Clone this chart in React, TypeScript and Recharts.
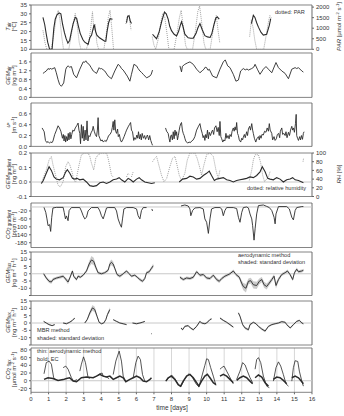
import React from "react";
import {
  ComposedChart,
  Line,
  Area,
  XAxis,
  YAxis,
  CartesianGrid,
  ReferenceLine,
  ReferenceArea,
} from "recharts";

type P = [number, number] | null;
type S = [number, number, number] | null;

const dayTicks = [0, 1, 2, 3, 4, 5, 6, 7, 8, 9, 10, 11, 12, 13, 14, 15, 16];

// air temperature [°C]
const tair: P[] = [
  [0.68, 28], [0.78, 24], [0.87, 18.5], [0.95, 14], [1.06, 10], [1.2, 10], [1.3, 22], [1.38, 27], [1.48, 29.5],
  [1.6, 30.5], [1.7, 30], [1.8, 24], [1.9, 19.5], [2.0, 16], [2.1, 13.5], [2.2, 15], [2.3, 20], [2.4, 24.5],
  [2.52, 28], [2.6, 27.5], [2.7, 23], [2.8, 19], [2.95, 15.5], [3.06, 14], [3.25, 12.8], [3.35, 16.5], [3.45, 18],
  [3.52, 21], [3.6, 24], [3.68, 20], [3.75, 18], [3.9, 16.5], [4.05, 15.5], [4.2, 14.5], [4.26, 14.5], [4.33, 20],
  [4.42, 25], [4.5, 27.3], [4.64, 27], null,
  [5.44, 25], [5.5, 28.5], [5.58, 29], [5.65, 26], [5.72, 24.5], null,
  [6.92, 18.5], [7.05, 17], [7.15, 16], [7.3, 20], [7.45, 26], [7.6, 31], [7.7, 30], [7.81, 27], [7.9, 23], [8.0, 20.5],
  [8.15, 18.5], [8.29, 17.5], [8.4, 20], [8.5, 23.5], [8.57, 25.5], [8.65, 23], [8.76, 18.5], [8.95, 16.5], [9.1, 16.2],
  [9.24, 16.3], [9.4, 19], [9.5, 22], [9.62, 24.5], [9.75, 21], [9.9, 17.7], [10.05, 17], [10.2, 16.7], [10.3, 19],
  [10.42, 24], [10.52, 27.5], [10.6, 28.3], [10.72, 27], null,
  [12.55, 24.5], [12.66, 29.2], [12.75, 28], [12.85, 25], [12.95, 22.5], [13.1, 19.5], [13.23, 18], [13.42, 18.5],
  [13.57, 23.5], [13.65, 27.3],
];

// PAR [µmol m-2 s-1]
const par: P[] = [
  [0.68, 900], [0.8, 300], [0.9, 0], [1.15, 0], [1.3, 700], [1.45, 1600], [1.55, 1850], [1.65, 1400], [1.75, 600],
  [1.85, 0], [2.15, 0], [2.3, 700], [2.42, 1300], [2.52, 1700], [2.62, 1200], [2.75, 300], [2.85, 0], [3.15, 0],
  [3.3, 400], [3.4, 1000], [3.5, 1780], [3.58, 900], [3.65, 1200], [3.75, 300], [3.85, 0], [4.15, 0], [4.3, 800],
  [4.4, 1500], [4.5, 1850], [4.6, 1000], [4.7, 0], null,
  [5.4, 1200], [5.5, 1600], [5.6, 1500], [5.7, 900], null,
  [6.9, 600], [7.0, 200], [7.1, 0], [7.25, 500], [7.4, 1300], [7.5, 1700], [7.62, 1500], [7.75, 700], [7.85, 0],
  [8.15, 0], [8.3, 700], [8.45, 1500], [8.55, 1850], [8.65, 1200], [8.8, 200], [8.9, 0], [9.2, 0], [9.35, 800],
  [9.5, 1800], [9.6, 2050], [9.7, 1400], [9.85, 300], [9.95, 0], [10.2, 0], [10.35, 800], [10.48, 1400], [10.55, 1600],
  [10.65, 900], [10.75, 300], null,
  [12.45, 600], [12.55, 1400], [12.65, 1000], [12.75, 400], [12.85, 0], [13.25, 0], [13.4, 700], [13.52, 1300],
  [13.6, 1600], [13.68, 1500],
];

// GEM air concentration [ng m-3]
const gemAir: P[] = [
  [0.68, 1.08], [0.78, 1.14], [0.87, 1.19], [0.97, 1.3], [1.05, 1.26], [1.1, 1.32], [1.16, 1.27], [1.25, 1.3],
  [1.35, 1.34], [1.44, 1.11], [1.54, 0.8], [1.63, 0.58], [1.73, 0.5], [1.86, 0.65], [1.98, 1.27], [2.05, 1.38],
  [2.11, 1.42], [2.2, 1.36], [2.3, 1.39], [2.43, 1.04], [2.59, 0.88], [2.78, 1.27], [2.97, 1.6], [3.05, 1.58],
  [3.12, 1.65], [3.2, 1.55], [3.31, 1.49], [3.42, 1.35], [3.54, 1.19], [3.63, 1.14], [3.73, 1.08], [3.88, 1.34],
  [3.95, 1.28], [4.01, 1.3], [4.1, 1.25], [4.2, 1.19], [4.39, 0.96], [4.58, 0.84], [4.77, 1.19], [4.96, 1.49],
  [5.06, 1.42], [5.15, 1.3], [5.25, 1.23], [5.48, 0.96], [5.63, 0.73], [5.72, 1.04], [5.86, 1.49], [6.01, 1.42],
  [6.1, 1.3], [6.2, 1.19], [6.3, 1.12], [6.39, 1.04], [6.58, 0.88], [6.77, 0.96], [6.85, 1.05], [6.92, 1.23], null,
  [8.48, 1.42], [8.57, 1.15], [8.62, 1.4], [8.76, 1.49], [8.9, 1.55], [9.05, 1.6], [9.24, 1.49], [9.43, 1.27],
  [9.62, 1.11], [9.75, 1.2], [9.85, 1.27], [9.92, 1.36], [10.0, 1.34], [10.08, 1.22], [10.15, 1.27], [10.34, 0.96],
  [10.57, 0.88], [10.76, 1.27], [10.95, 1.6], [11.06, 1.69], [11.2, 1.42], [11.33, 1.34], [11.52, 1.04],
  [11.67, 0.73], [11.81, 0.78], [11.94, 1.19], [12.09, 1.3], [12.2, 1.24], [12.3, 1.28], [12.38, 1.23],
  [12.57, 1.3], [12.68, 1.36], [12.76, 1.49], [12.89, 1.27], [13.04, 1.04], [13.23, 1.27], [13.38, 1.39],
  [13.52, 1.27], [13.71, 1.11], [13.95, 1.57], [14.09, 1.34], [14.28, 1.19], [14.47, 1.08], [14.66, 0.84],
  [14.85, 1.27], [15.04, 1.34], [15.13, 1.3], [15.23, 1.34], [15.42, 1.19], [15.51, 1.14],
];

// friction velocity [m s-1]
const ustar: P[] = [
  [0.63, 0.34], [0.7, 0.3], [0.75, 0.27], [0.82, 0.11], [0.9, 0.07], [0.97, 0.09], [1.05, 0.06], [1.12, 0.08],
  [1.2, 0.07], [1.25, 0.1], [1.35, 0.22], [1.45, 0.3], [1.54, 0.38], [1.62, 0.34], [1.7, 0.28], [1.79, 0.15],
  [1.84, 0.22], [1.88, 0.1], [1.93, 0.2], [1.97, 0.08], [2.02, 0.18], [2.07, 0.1], [2.12, 0.24], [2.16, 0.12],
  [2.22, 0.26], [2.27, 0.14], [2.32, 0.22], [2.38, 0.3], [2.45, 0.28], [2.52, 0.34], [2.6, 0.38], [2.68, 0.43],
  [2.73, 0.3], [2.78, 0.24], [2.82, 0.05], [2.87, 0.4], [2.92, 0.15], [2.97, 0.37], [3.02, 0.1], [3.08, 0.3],
  [3.13, 0.12], [3.19, 0.47], [3.24, 0.1], [3.29, 0.2], [3.35, 0.18], [3.42, 0.25], [3.5, 0.3], [3.54, 0.37],
  [3.6, 0.28], [3.66, 0.22], [3.73, 0.18], [3.78, 0.3], [3.82, 0.53], [3.86, 0.2], [3.92, 0.15], [3.98, 0.1],
  [4.05, 0.12], [4.12, 0.08], [4.2, 0.11], [4.28, 0.09], [4.35, 0.14], [4.42, 0.2], [4.5, 0.22], [4.58, 0.27],
  [4.63, 0.35], [4.68, 0.46], [4.72, 0.3], [4.77, 0.49], [4.82, 0.28], [4.87, 0.24], [4.93, 0.32], [4.97, 0.18],
  [5.03, 0.22], [5.09, 0.12], [5.15, 0.08], [5.22, 0.12], [5.3, 0.18], [5.38, 0.25], [5.44, 0.3], [5.53, 0.36],
  [5.6, 0.4], [5.67, 0.44], [5.72, 0.3], [5.78, 0.27], [5.85, 0.11], [5.9, 0.16], [5.96, 0.13], [6.03, 0.21],
  [6.08, 0.15], [6.12, 0.27], [6.18, 0.14], [6.23, 0.22], [6.28, 0.12], [6.33, 0.24], [6.4, 0.15], [6.47, 0.2],
  [6.52, 0.13], [6.58, 0.18], [6.63, 0.21], [6.7, 0.12], [6.76, 0.2], [6.82, 0.11], [6.88, 0.05], [6.92, 0.02], null,
  [7.66, 0.34], [7.72, 0.28], [7.81, 0.24], [7.86, 0.15], [7.91, 0.08], [7.96, 0.2], [8.0, 0.21], [8.05, 0.12],
  [8.1, 0.27], [8.15, 0.14], [8.2, 0.3], [8.25, 0.2], [8.29, 0.27], [8.34, 0.12], [8.39, 0.2], [8.44, 0.3],
  [8.48, 0.37], [8.53, 0.42], [8.57, 0.44], [8.62, 0.3], [8.67, 0.24], [8.72, 0.2], [8.76, 0.15], [8.81, 0.1],
  [8.86, 0.08], [8.92, 0.06], [9.0, 0.08], [9.08, 0.07], [9.15, 0.1], [9.24, 0.12], [9.33, 0.18], [9.43, 0.3],
  [9.52, 0.36], [9.62, 0.42], [9.68, 0.32], [9.75, 0.24], [9.8, 0.16], [9.85, 0.2], [9.9, 0.11], [9.95, 0.22],
  [10.0, 0.16], [10.05, 0.3], [10.1, 0.14], [10.15, 0.26], [10.22, 0.2], [10.3, 0.28], [10.34, 0.3], [10.4, 0.22],
  [10.45, 0.34], [10.53, 0.38], [10.6, 0.27], [10.66, 0.35], [10.72, 0.2], [10.76, 0.46], [10.81, 0.18],
  [10.86, 0.14], [10.92, 0.08], [10.98, 0.12], [11.04, 0.1], [11.1, 0.24], [11.15, 0.15], [11.22, 0.2],
  [11.28, 0.14], [11.33, 0.22], [11.4, 0.18], [11.45, 0.28], [11.52, 0.34], [11.57, 0.28], [11.62, 0.36],
  [11.67, 0.3], [11.71, 0.44], [11.76, 0.24], [11.81, 0.2], [11.86, 0.12], [11.94, 0.08], [12.0, 0.15],
  [12.05, 0.12], [12.09, 0.17], [12.15, 0.22], [12.2, 0.16], [12.28, 0.27], [12.33, 0.2], [12.38, 0.32],
  [12.45, 0.37], [12.5, 0.3], [12.57, 0.42], [12.62, 0.3], [12.66, 0.24], [12.72, 0.15], [12.8, 0.08],
  [12.86, 0.14], [12.95, 0.18], [13.0, 0.12], [13.04, 0.2], [13.1, 0.15], [13.15, 0.22], [13.23, 0.21],
  [13.3, 0.28], [13.38, 0.26], [13.45, 0.34], [13.52, 0.28], [13.57, 0.42], [13.62, 0.3], [13.71, 0.24],
  [13.76, 0.12], [13.84, 0.18], [13.9, 0.11], [13.97, 0.14], [14.03, 0.22], [14.1, 0.24], [14.16, 0.16],
  [14.2, 0.28], [14.28, 0.34], [14.33, 0.22], [14.4, 0.24], [14.47, 0.2], [14.52, 0.27], [14.58, 0.16],
  [14.66, 0.26], [14.72, 0.2], [14.78, 0.3], [14.85, 0.37], [14.9, 0.3], [14.95, 0.34], [15.0, 0.26],
  [15.06, 0.42], [15.1, 0.59], [15.13, 0.2], [15.18, 0.15], [15.23, 0.11], [15.3, 0.18], [15.35, 0.12],
  [15.4, 0.2], [15.46, 0.13], [15.51, 0.24], [15.55, 0.27],
];

// GEM gradient [ng m-4]
const gemGrad: P[] = [
  [0.59, -0.01], [0.7, 0.01], [0.87, 0.06], [1.03, 0.105], [1.16, 0.08], [1.31, 0.035], [1.44, 0.02], [1.63, 0.015],
  [1.83, 0.03], [1.98, 0.07], [2.07, 0.085], [2.21, 0.06], [2.36, 0.025], [2.49, 0.02], [2.62, 0.025], [2.78, 0.015],
  [2.97, 0.02], [3.16, 0.0], [3.35, -0.025], [3.54, -0.03], [3.73, -0.025], [3.92, -0.005], [4.11, 0.0],
  [4.3, -0.01], [4.49, 0.0], [4.68, 0.015], [4.87, 0.02], [5.02, 0.03], [5.15, 0.015], [5.34, 0.0], [5.53, 0.025],
  [5.67, 0.015], [5.82, 0.0], [6.01, 0.02], [6.16, 0.03], [6.29, 0.015], [6.48, 0.0], [6.67, -0.005],
  [6.86, -0.01], [7.05, -0.005], null,
  [8.44, 0.0], [8.63, 0.02], [8.86, 0.025], [9.05, 0.04], [9.24, 0.035], [9.43, 0.02], [9.62, 0.025], [9.81, 0.045],
  [10.0, 0.06], [10.15, 0.075], [10.28, 0.045], [10.44, 0.01], [10.57, 0.02], [10.76, 0.025], [10.95, 0.03],
  [11.14, 0.015], [11.33, 0.01], [11.52, 0.0], [11.71, 0.01], [11.9, 0.015], [12.09, 0.02], [12.28, 0.025],
  [12.47, 0.035], [12.66, 0.03], [12.85, 0.045], [13.04, 0.07], [13.17, 0.105], [13.33, 0.07], [13.48, 0.025],
  [13.61, 0.02], [13.8, 0.015], [13.99, 0.03], [14.18, 0.02], [14.37, 0.0], [14.56, 0.015], [14.75, 0.02],
  [14.9, 0.03], [15.04, 0.015], [15.23, 0.01], [15.42, 0.0], [15.51, -0.005],
];

// relative humidity [%]
const rh: P[] = [
  [0.59, 30], [0.68, 41], [0.87, 61], [1.03, 84], [1.16, 92], [1.25, 73], [1.4, 49], [1.54, 26], [1.67, 22],
  [1.83, 34], [1.98, 69], [2.11, 80], [2.21, 73], [2.36, 53], [2.43, 37], [2.55, 34], [2.62, 49], [2.74, 73],
  [2.87, 96], [3.06, 100], [3.25, 100], [3.35, 92], [3.44, 77], [3.57, 61], [3.69, 88], [3.82, 96], [4.01, 100],
  [4.3, 100], [4.39, 88], [4.49, 69], [4.58, 49], [4.68, 45], null,
  [5.44, 45], [5.53, 53], [5.6, 50], null,
  [5.72, 45], [5.82, 57], null,
  [6.92, 80], [7.05, 88], [7.15, 92], [7.3, 69], [7.43, 49], [7.57, 34], [7.72, 41], [7.91, 69], [8.06, 88],
  [8.2, 92], [8.29, 77], [8.44, 49], [8.57, 37], [8.76, 53], [8.9, 84], [9.05, 100], [9.33, 100], [9.46, 88],
  [9.62, 65], [9.71, 49], [9.85, 73], [10.0, 96], [10.19, 100], [10.38, 92], [10.53, 61], [10.66, 41],
  [10.76, 61], null,
  [12.43, 37], [12.57, 61], [12.66, 84], [12.76, 96], [12.95, 96], [13.08, 77], [13.19, 49], [13.3, 34],
  [13.52, 45], [13.61, 57], null,
  [15.49, 80], [15.52, 88],
];

// CO2 gradient [ppm m-1]
const co2Grad: P[] = [
  [0.74, -2], [0.84, -27], [0.91, -60], [0.97, -94], [1.06, -89], [1.12, -123], [1.18, -52], [1.25, -5],
  [1.44, -2], [1.83, -2], [1.89, -27], [1.96, -60], [2.02, -45], [2.11, -69], [2.17, -18], [2.3, -3], [2.78, -3],
  [2.87, -20], [2.97, -44], [3.06, -60], [3.16, -52], [3.25, -20], [3.44, -3], [3.82, -3], [3.92, -20],
  [4.01, -44], [4.11, -60], [4.2, -35], [4.3, -5], [4.39, -3], [4.77, -3], [4.87, -20], [4.96, -60], [5.06, -85],
  [5.15, -102], [5.21, -60], [5.29, -10], [5.44, -3], [5.82, -3], [6.01, -10], [6.1, -44], [6.2, -60],
  [6.29, -18], [6.39, -3], [6.58, -3], null,
  [6.88, -10], [6.92, -20], null,
  [8.54, 5], [8.76, 10], [8.95, 5], [9.05, -10], [9.1, -44], [9.2, -18], [9.33, -5], [9.62, -3], [9.81, -10],
  [9.9, -60], [10.0, -77], [10.1, -133], [10.19, -60], [10.28, -10], [10.47, -3], [10.76, -3], [10.86, -10],
  [10.95, -44], [11.04, -18], [11.14, -3], [11.52, -3], [11.71, -8], [11.81, -52], [11.9, -77], [12.0, -27],
  [12.09, -3], [12.28, 0], [12.38, -5], [12.47, -35], [12.57, -60], [12.62, -94], [12.7, -167], [12.76, -110],
  [12.85, -35], [12.95, 7], [13.23, 10], [13.42, 3], [13.57, -3], [13.71, -18], [13.84, -52], [13.9, -85],
  [13.95, -35], [14.09, 2], [14.56, 2], [14.71, -10], [14.85, -52], [14.94, -65], [15.04, -18], [15.13, -3],
  [15.42, 2], [15.51, 2],
];

// GEM flux, aerodynamic method [ng m-2 h-1]: time, value, standard deviation
const gemAero: S[] = [
  [0.72, 0, 1], [0.87, -2.9, 1], [1.03, -5.2, 1.2], [1.16, -5.7, 1.2], [1.25, -4, 1], [1.44, -3, 1],
  [1.63, -2.4, 1], [1.83, -1.7, 1], [1.92, -2.9, 1], [2.11, -5.7, 1.5], [2.21, -2.9, 1], [2.36, 1.9, 1],
  [2.43, -1.7, 1], [2.59, -4, 1], [2.68, -1.7, 1], [2.81, -2.4, 0.8], [2.97, -1, 0.8], [3.16, 1.9, 1],
  [3.31, 6.7, 2], [3.44, 9.5, 2.8], [3.57, 8.6, 2.5], [3.69, 4.5, 1.5], [3.82, 0.7, 1], [4.01, 0, 0.8],
  [4.2, 0.7, 0.8], [4.39, 2.4, 1], [4.49, 6.7, 1.8], [4.58, 7.9, 2], [4.68, 6.7, 1.8], [4.77, 3.8, 1.2],
  [4.9, -0.5, 1], [5.06, -1.7, 1], [5.25, 0, 0.8], [5.44, 1.9, 0.8], [5.59, 0, 0.8], [5.72, -1.7, 0.8],
  [5.91, -1, 0.8], [6.05, -2.4, 0.8], [6.2, -4, 1], [6.35, -5.2, 1], [6.48, -3.3, 1], [6.58, 0.7, 1],
  [6.73, 1.4, 1], [6.86, 3.8, 1.2], [6.96, 5.5, 1.5], null,
  [8.48, -2.4, 1], [8.67, -4, 1], [8.86, -2.9, 1], [9.05, -3.3, 1], [9.24, -2.4, 1], [9.43, 1.4, 1],
  [9.62, -1, 1], [9.81, -0.5, 1], [10.0, -2.9, 1], [10.19, -3.3, 1], [10.38, -1, 1], [10.57, -4, 1.2],
  [10.72, -5.2, 1.2], [10.86, -3.3, 1], [11.04, -1.7, 1], [11.33, 0, 1], [11.52, 1.9, 1], [11.67, -0.5, 1],
  [11.86, -2.4, 1.2], [11.99, -6.4, 2], [12.09, -8.8, 2.5], [12.24, -10, 3], [12.38, -5.2, 2], [12.51, -4.8, 2],
  [12.66, -7.6, 2.5], [12.85, -8.1, 2.5], [13.0, -5.2, 2], [13.14, -4, 1.8], [13.27, -7.6, 2], [13.42, -8.8, 2],
  [13.57, -6.4, 1.5], [13.71, -4, 1.5], [13.84, -1.7, 1.5], [13.95, -8.1, 2], [14.09, -4, 1.5], [14.28, -0.5, 1],
  [14.47, 0.7, 1], [14.6, 1.9, 1], [14.75, -0.5, 1], [14.9, -4, 1.2], [15.0, 0.7, 1], [15.13, 3.1, 1.2],
  [15.23, 1.4, 1], [15.42, 1.9, 1], [15.51, 2.4, 1],
];

// GEM flux, MBR method [ng m-2 h-1]: time, value, standard deviation
const gemMbr: S[] = [
  [0.72, 1.1, 0.5], [0.87, 0, 0.5], [1.03, -1.1, 0.5], [1.2, -1.8, 0.5], [1.35, -1.1, 0.5], null,
  [1.83, 0, 0.5], [2.02, -0.5, 0.5], [2.2, 0.5, 0.5], [2.36, 1.8, 0.5], [2.49, 3.4, 0.6], null,
  [3.06, 0, 0.5], [3.2, 2.3, 0.8], [3.35, 6.9, 1.5], [3.5, 10.3, 2], [3.63, 9.2, 1.8], [3.76, 4.6, 1],
  [3.88, 0.5, 0.6], [4.01, -0.5, 0.5], [4.14, 0, 0.5], [4.26, 2.3, 0.6], [4.35, 5.7, 1], [4.49, 9.2, 1.5], null,
  [4.68, 2.3, 0.5], [4.87, 1.1, 0.5], [5.06, 0, 0.5], [5.25, -0.5, 0.5], [5.44, -1.1, 0.5], null,
  [5.78, 0, 0.5], [6.01, -0.5, 0.5], [6.2, 0, 0.5], [6.35, 0.5, 0.5], [6.48, 1.1, 0.5], null,
  [6.85, -7.3, 0.3], [6.88, -7.3, 0.3], null,
  [8.54, -3.4, 0.6], [8.63, -4.6, 0.6], [8.76, -2.3, 0.6], [8.95, -1.8, 0.6], [9.08, -3.4, 0.6], [9.24, -4.6, 0.6],
  [9.43, -2.3, 0.6], [9.62, 1.1, 0.6], [9.71, 0, 0.6], [9.9, -0.5, 0.6], [10.0, 0, 0.6], [10.19, 2.3, 0.6],
  [10.28, 2.8, 0.6], null,
  [10.76, 3.4, 0.6], [10.95, 1.8, 0.6], [11.14, 0.5, 0.6], [11.33, -1.1, 0.6], [11.52, -2.8, 0.6], null,
  [11.81, 6.9, 0.8], [11.9, 4.6, 0.8], [12.05, -1.1, 0.8], [12.19, -3.4, 0.8], [12.38, -4.6, 0.8],
  [12.47, -1.1, 0.8], [12.66, 0.5, 0.6], [12.81, -0.5, 0.6], [12.95, -2.3, 0.6], [13.14, -4.1, 0.8],
  [13.33, -5.5, 0.8], [13.52, -2.3, 0.6], [13.71, -1.1, 0.6], [13.9, -0.5, 0.6], [14.09, 0, 0.6],
  [14.28, 0.9, 0.6], [14.47, 0.5, 0.6], [14.56, -1.1, 0.6], [14.76, -3.4, 0.6], [14.94, -1.1, 0.6],
  [15.13, 1.1, 0.6], [15.28, 1.8, 0.6], [15.42, 0, 0.6], [15.51, -0.5, 0.6],
];

// CO2 flux, aerodynamic method (thin) [µmol m-2 s-1]
const co2Aero: P[] = [
  [0.74, 18], [0.87, 47], [1.03, 51], [1.16, 43], [1.29, 8], [1.4, 3.5], null,
  [1.83, 34], [1.98, 38], [2.11, 30], [2.3, 8], [2.43, -1], [2.62, 3], null,
  [2.78, 25], [2.87, 43], [2.99, 62], [3.1, 47], [3.25, 8], [3.35, 6], null,
  [3.73, 12], [3.92, 18], [4.05, 20], [4.11, 12], [4.3, 10], [4.45, 5], null,
  [4.68, 16], [4.83, 51], [5.02, 77], [5.15, 51], [5.25, 12], [5.4, -2.6], null,
  [5.82, 8], [5.97, 47], [6.1, 64], [6.23, 55], [6.35, 16], [6.48, -1], null,
  [7.68, -1], [7.85, 8], [8.0, 15], [8.2, 5], [8.4, -10], [8.52, -16], [8.7, 0], [8.9, 14], [9.0, 18], [9.2, 8],
  [9.4, -8], [9.56, -16], [9.75, 15], [9.9, 40], [10.0, 57], [10.1, 55], [10.23, 34], [10.38, 12], [10.53, -12], null,
  [10.76, 30], [10.86, 34], [10.99, 38], [11.14, 25], [11.29, 12], [11.43, -1], [11.52, -8], null,
  [11.71, 3.5], [11.9, 25], [12.05, 47], [12.19, 41], [12.32, 25], [12.47, 8], [12.62, -5], null,
  [12.76, 30], [12.85, 55], [12.95, 60], [13.08, 47], [13.23, 12], [13.42, -14], [13.57, -18], null,
  [13.8, -1], [13.95, 34], [14.09, 49], [14.22, 38], [14.37, 16], [14.52, -8], [14.66, -14], null,
  [14.85, -1], [14.94, 34], [15.04, 52], [15.19, 50], [15.28, 25], [15.42, -1], [15.51, -14],
];

// CO2 flux, eddy covariance (bold) [µmol m-2 s-1]
const co2Ec: P[] = [
  [0.74, 3.5], [0.97, 7.8], [1.25, 6], [1.54, 0.9], [1.83, 3], [2.02, 6], [2.2, 7.8], [2.4, -1], [2.59, -2.6],
  [2.87, 7.8], [3.16, 9.5], [3.54, 7.8], [3.73, 12], [3.92, 16.5], [4.11, 12], [4.3, 9.5], [4.49, 12], [4.68, 3.5],
  [4.87, 7.8], [5.06, 12], [5.25, 7.8], [5.4, -2.6], [5.63, 3.5], [5.82, 7.8], [6.01, 12], [6.2, 7.8], [6.39, -1],
  [6.58, -2.6], [6.77, 3.5], [6.86, 7.8], null,
  [7.68, -1], [7.81, 7.8], [8.0, 12], [8.19, 3.5], [8.38, -10], [8.52, -14], [8.67, -1], [8.86, 12], [9.05, 16.5],
  [9.24, 7.8], [9.43, -5], [9.56, -14], [9.71, -1], [9.9, 12], [10.04, 16.5], [10.19, 7.8], [10.38, -5],
  [10.53, -10], null,
  [10.76, 12], [10.95, 16.5], [11.14, 12], [11.33, 3.5], [11.52, -5], null,
  [11.71, 0.9], [11.9, 7.8], [12.09, 12], [12.28, 7.8], [12.47, -1], [12.62, -8], null,
  [12.76, 7.8], [12.95, 14.8], [13.14, 9.5], [13.33, -5], [13.52, -14], null,
  [13.8, 3.5], [13.99, 9.5], [14.18, 7.8], [14.37, 1], [14.56, -8], null,
  [14.85, 7.8], [15.04, 12], [15.23, 7.8], [15.42, -2.6], [15.51, -8],
];

function rows(pts: P[]) {
  let last = 0;
  return pts.map((p) => {
    if (p === null) return { t: last, v: null };
    last = p[0];
    return { t: p[0], v: p[1] };
  });
}

function sdRows(pts: S[]) {
  let last = 0;
  return pts.map((p) => {
    if (p === null) return { t: last, v: null, r: null };
    last = p[0];
    return { t: p[0], v: p[1], r: [p[1] - p[2], p[1] + p[2]] };
  });
}

const font = "'Liberation Sans', Arial, sans-serif";
const tickStyle = { fontSize: 6, fill: "#333", fontFamily: font };
const fmt1 = (v: number) => v.toFixed(1);
// the -15 label would sit on top of the next panel's top label
const fmtFlux = (v: number) => (v === -15 ? "" : String(v));

interface PanelProps {
  top: number;
  h: number;
  domain: [number, number];
  ticks: number[];
  fmt?: (v: number) => string;
  rDomain?: [number, number];
  rTicks?: number[];
  zero?: boolean;
  last?: boolean;
  children: React.ReactNode;
}

const PAD = 5;

function Panel({ top, h, domain, ticks, fmt, rDomain, rTicks, zero, last, children }: PanelProps) {
  const xh = last ? 14 : 3;
  const mb = last ? 0 : 4;
  return (
    <div style={{ position: "absolute", left: 0, top: top - PAD }}>
      <ComposedChart width={344} height={h + PAD + xh + mb} margin={{ top: PAD, right: 0, bottom: mb, left: 0 }}>
        <CartesianGrid horizontal={false} stroke="#d2d2d2" strokeWidth={0.9} />
        <XAxis
          type="number"
          dataKey="t"
          domain={[0, 16]}
          ticks={dayTicks}
          allowDataOverflow
          height={xh}
          tick={last ? tickStyle : false}
          tickSize={2}
          tickLine={{ stroke: "#666" }}
          axisLine={false}
          interval={0}
        />
        <YAxis
          domain={domain}
          ticks={ticks}
          allowDataOverflow
          width={31}
          tick={tickStyle}
          tickFormatter={fmt}
          tickSize={2}
          tickLine={{ stroke: "#666" }}
          axisLine={false}
          interval={0}
        />
        <YAxis
          yAxisId="r"
          orientation="right"
          domain={rDomain ?? domain}
          ticks={rTicks ?? ticks}
          allowDataOverflow
          width={32}
          tick={rDomain ? tickStyle : false}
          tickSize={2}
          tickLine={{ stroke: "#666" }}
          axisLine={false}
          interval={0}
        />
        {zero && <ReferenceLine y={0} stroke="#c8c8c8" strokeWidth={1} />}
        {children}
        <ReferenceArea x1={0} x2={16} y1={domain[0]} y2={domain[1]} fill="none" stroke="#666" strokeWidth={0.8} />
      </ComposedChart>
    </div>
  );
}

const solid = { type: "linear" as const, dot: false, stroke: "#2b2b2b", strokeWidth: 0.9, isAnimationActive: false };
const dotted = { type: "linear" as const, dot: false, stroke: "#8a8a8a", strokeWidth: 0.8, strokeDasharray: "1 1", isAnimationActive: false };

function YTitle({ cy, main, sub, unit }: { cy: number; main: string; sub: string; unit: React.ReactNode }) {
  return (
    <g>
      <text transform={`translate(9.5,${cy}) rotate(-90)`} textAnchor="middle" fontSize={6}>
        <tspan fontStyle="italic">{main}</tspan>
        <tspan fontSize={4.5} dy={1.2}>{sub}</tspan>
      </text>
      <text transform={`translate(15.5,${cy}) rotate(-90)`} textAnchor="middle" fontSize={6}>
        {unit}
      </text>
    </g>
  );
}

const sup = (s: string) => (
  <tspan fontSize={4.2} dy={-2}>
    {s}
  </tspan>
);
const down = (s: string) => <tspan dy={2}>{s}</tspan>;

export default function App() {
  return (
    <div style={{ position: "absolute", left: 0, top: 0, width: 344, height: 416, background: "#fff", fontFamily: font, overflow: "hidden" }}>
      <Panel top={4.5} h={44.3} domain={[10, 35]} ticks={[10, 15, 20, 25, 30, 35]} rDomain={[0, 2100]} rTicks={[0, 500, 1000, 1500, 2000]}>
        <Line {...dotted} yAxisId="r" data={rows(par)} dataKey="v" />
        <Line {...solid} strokeWidth={1.1} data={rows(tair)} dataKey="v" />
      </Panel>
      <Panel top={53.3} h={44.4} domain={[0, 2]} ticks={[0, 0.4, 0.8, 1.2, 1.6]} fmt={fmt1}>
        <Line {...solid} data={rows(gemAir)} dataKey="v" />
      </Panel>
      <Panel top={103.3} h={43.4} domain={[0, 0.8]} ticks={[0, 0.2, 0.4, 0.6]} fmt={fmt1}>
        <Line {...solid} data={rows(ustar)} dataKey="v" />
      </Panel>
      <Panel top={152.5} h={43.5} domain={[-0.1, 0.2]} ticks={[-0.1, 0, 0.1, 0.2]} fmt={fmt1} rDomain={[0, 100]} rTicks={[0, 20, 40, 60, 80, 100]} zero>
        <Line {...dotted} yAxisId="r" data={rows(rh)} dataKey="v" />
        <Line {...solid} strokeWidth={1.1} data={rows(gemGrad)} dataKey="v" />
      </Panel>
      <Panel top={202.5} h={44.5} domain={[-204, 20]} ticks={[-180, -140, -100, -60, -20]} zero>
        <Line {...solid} data={rows(co2Grad)} dataKey="v" />
      </Panel>
      <Panel top={251.5} h={43.5} domain={[-15, 15]} ticks={[-15, -10, -5, 0, 5, 10, 15]} fmt={fmtFlux} zero>
        <Area type="linear" data={sdRows(gemAero)} dataKey="r" stroke="none" fill="#c4c4c4" fillOpacity={0.9} isAnimationActive={false} />
        <Line {...solid} data={sdRows(gemAero)} dataKey="v" />
      </Panel>
      <Panel top={300.5} h={44} domain={[-15, 15]} ticks={[-15, -10, -5, 0, 5, 10, 15]} fmt={fmtFlux} zero>
        <Area type="linear" data={sdRows(gemMbr)} dataKey="r" stroke="none" fill="#c4c4c4" fillOpacity={0.9} isAnimationActive={false} />
        <Line {...solid} data={sdRows(gemMbr)} dataKey="v" />
      </Panel>
      <Panel top={347.5} h={44.3} domain={[-30, 85]} ticks={[-20, 0, 20, 40, 60, 80]} zero last>
        <Line {...solid} strokeWidth={0.8} data={rows(co2Aero)} dataKey="v" />
        <Line {...solid} strokeWidth={1.5} data={rows(co2Ec)} dataKey="v" />
      </Panel>

      <svg width={344} height={416} style={{ position: "absolute", left: 0, top: 0, pointerEvents: "none" }} fontFamily={font} fill="#333">
        <YTitle cy={26.5} main="T" sub="air" unit={<>[°C]</>} />
        <YTitle cy={75.5} main="GEM" sub="air" unit={<>[ng m{sup("-3")}{down("]")}</>} />
        <YTitle cy={125} main="u" sub="*" unit={<>[m s{sup("-1")}{down("]")}</>} />
        <YTitle cy={174} main="GEM" sub="gradient" unit={<>[ng m{sup("-4")}{down("]")}</>} />
        <YTitle cy={224.5} main="CO" sub="2 gradient" unit={<>[ppm m{sup("-1")}{down("]")}</>} />
        <YTitle cy={273} main="GEM" sub="flux" unit={<>[ng m{sup("-2")}{down(" h")}{sup("-1")}{down("]")}</>} />
        <YTitle cy={322.5} main="GEM" sub="flux" unit={<>[ng m{sup("-2")}{down(" h")}{sup("-1")}{down("]")}</>} />
        <YTitle cy={369.5} main="CO" sub="2 flux" unit={<>[µmol m{sup("-2")}{down(" s")}{sup("-1")}{down("]")}</>} />

        <text transform="translate(341,26.5) rotate(-90)" textAnchor="middle" fontSize={6}>
          <tspan fontStyle="italic">PAR</tspan> [µmol m{sup("-2")}{down(" s")}{sup("-1")}{down("]")}
        </text>
        <text transform="translate(341,174) rotate(-90)" textAnchor="middle" fontSize={6}>
          <tspan fontStyle="italic">RH</tspan> [%]
        </text>

        <text x={275} y={13.5} fontSize={5.6}>dotted: PAR</text>
        <text x={247} y={189.5} fontSize={5.6}>dotted: relative humidity</text>
        <text x={238} y={256.5} fontSize={5.6}>aerodynamic method</text>
        <text x={238} y={264} fontSize={5.6}>shaded: standard deviation</text>
        <text x={37} y={331.5} fontSize={5.6}>MBR method</text>
        <text x={37} y={339.5} fontSize={5.6}>shaded: standard deviation</text>
        <text x={37} y={353.3} fontSize={5.6}>thin: aerodynamic method</text>
        <text x={37} y={360.5} fontSize={5.6}>bold: EC</text>
        <text x={172} y={410} fontSize={6.5} textAnchor="middle">time [days]</text>
      </svg>
    </div>
  );
}
